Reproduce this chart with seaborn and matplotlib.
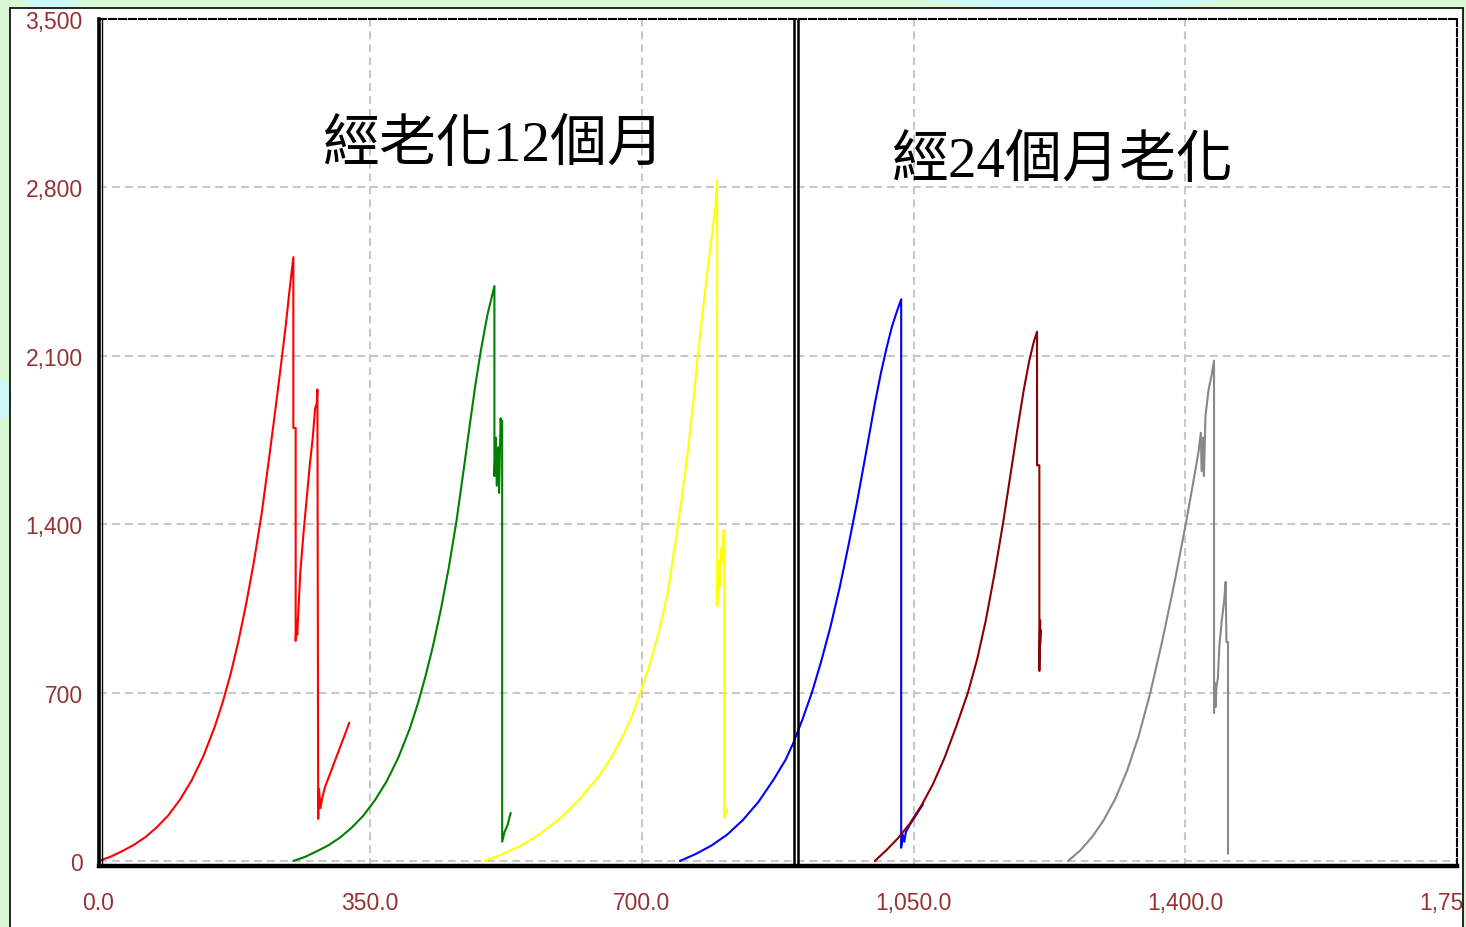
import matplotlib
matplotlib.use("Agg")
import numpy as np
import pandas as pd
import matplotlib.pyplot as plt
import matplotlib.ticker as mticker
import matplotlib.transforms as mtrans
from matplotlib.patches import Rectangle, Ellipse
from matplotlib.lines import Line2D
import seaborn as sns

# ---- data: six load traces (x = displacement / time, y = load) ----
red_x = [0, 15, 30, 45, 60, 75, 90, 105, 120, 135, 150, 160, 170, 180, 190, 200, 210, 220, 228, 235, 241, 246, 251,
         251, 254, 254, 255, 256, 257, 260, 264, 268, 272, 276, 279, 281, 282,
         283, 284, 286, 288, 292, 298, 305, 312, 318, 323]
red_y = [0, 17, 40, 66, 98, 140, 190, 255, 335, 435, 560, 660, 775, 910, 1065, 1240, 1440, 1680, 1880, 2060, 2220, 2370, 2510,
         1800, 1800, 915, 1000, 940, 1010, 1200, 1360, 1500, 1640, 1760, 1880, 1900, 1960,
         175, 300, 220, 260, 310, 360, 420, 480, 530, 575]

green_x = [251, 266, 281, 296, 311, 326, 341, 356, 371, 386, 401, 411, 421, 431, 441, 451, 461, 471, 479, 486, 493, 501, 510,
           510, 512, 513, 515, 516, 518, 519, 520, 520, 523, 527, 531]
green_y = [0, 17, 40, 65, 97, 138, 188, 252, 330, 428, 550, 650, 765, 895, 1045, 1215, 1410, 1640, 1830, 1990, 2130, 2270, 2390,
           1600, 1760, 1560, 1720, 1530, 1840, 1800, 1830, 80, 120, 150, 200]

yellow_x = [497, 520, 545, 570, 595, 620, 645, 660, 675, 687, 698, 710, 722, 733, 743, 751, 759, 766, 772, 779, 785, 791, 795, 797,
            797, 799, 800, 802, 803, 805, 806, 806, 808, 810]
yellow_y = [0, 28, 65, 115, 178, 258, 355, 428, 515, 600, 700, 815, 955, 1110, 1320, 1500, 1700, 1900, 2100, 2300, 2470, 2620, 2730, 2830,
            1060, 1250, 1140, 1300, 1240, 1375, 1370, 180, 200, 215]

blue_x = [749, 770, 790, 810, 830, 850, 870, 885, 895, 907, 919, 931, 943, 955, 966, 977, 990, 1000, 1008, 1015, 1022, 1028, 1034,
          1034, 1036, 1038, 1040, 1045, 1050, 1055, 1062]
blue_y = [0, 30, 65, 110, 170, 245, 340, 420, 490, 590, 700, 830, 975, 1140, 1310, 1490, 1720, 1900, 2030, 2130, 2220, 2280, 2335,
          55, 110, 80, 120, 150, 175, 200, 235]

maroon_x = [1000, 1015, 1030, 1045, 1060, 1075, 1090, 1105, 1120, 1132, 1143, 1154, 1165, 1175, 1184, 1192, 1199, 1205, 1209,
            1209, 1212, 1212, 1213, 1213, 1214]
maroon_y = [0, 45, 95, 155, 230, 320, 430, 560, 700, 840, 1000, 1190, 1400, 1610, 1800, 1960, 2080, 2160, 2200,
            1645, 1645, 790, 1000, 900, 960]

gray_x = [1249, 1265, 1280, 1295, 1310, 1325, 1340, 1355, 1370, 1385, 1400, 1410, 1417, 1420, 1421, 1423, 1424,
          1426, 1430, 1434, 1437,
          1437, 1438, 1439, 1440, 1442, 1444, 1447, 1450, 1452, 1453, 1455, 1455]
gray_y = [0, 45, 100, 170, 260, 375, 520, 700, 910, 1140, 1390, 1570, 1700, 1780, 1620, 1760, 1600,
          1850, 1960, 2020, 2080,
          615, 740, 640, 720, 760, 900, 1000, 1080, 1160, 910, 910, 30]

run_names = ["A", "B", "C", "D", "E", "F"]
run_colors = ["#FF0000", "#008000", "#FFFF00", "#0000FF", "#8B0000", "#888888"]

x_ticks = [0, 350, 700, 1050, 1400, 1750]
y_ticks = [0, 700, 1400, 2100, 2800, 3500]
divider_x = [895.5, 901.5]

label_12 = "經老化12個月"
label_24 = "經24個月老化"

# ---- long-form table for seaborn ----
series = [red_x, red_y, green_x, green_y, yellow_x, yellow_y,
          blue_x, blue_y, maroon_x, maroon_y, gray_x, gray_y]
frames = []
for i, name in enumerate(run_names):
    xs, ys = series[2 * i], series[2 * i + 1]
    frames.append(pd.DataFrame({"x": xs, "y": ys, "run": name}))
df = pd.concat(frames, ignore_index=True)

sns.set_style("white")
plt.rcParams["font.family"] = ["Liberation Sans", "DejaVu Sans"]
plt.rcParams["text.color"] = "black"

W, H = 1466, 928
BG = "#D8F8D4"
CYAN = "#CCF8FA"
TICK_RED = "#963232"


def fx(px):
    return px / W


def fy(py):
    return 1 - py / H


fig = plt.figure(figsize=(W / 100, H / 100), dpi=100)
fig.patch.set_facecolor(BG)

# decorative backdrop blobs and the white panel
fig.add_artist(Ellipse((fx(52), fy(-28)), 92 / W, 74 / H, transform=fig.transFigure,
                       color=CYAN, zorder=-3))
fig.add_artist(Ellipse((fx(1075), fy(-60)), 600 / W, 140 / H, transform=fig.transFigure,
                       color=CYAN, zorder=-3))
fig.add_artist(Rectangle((fx(10), fy(940)), 1453 / W, 932 / H, transform=fig.transFigure,
                         facecolor="white", edgecolor="none", zorder=-2))

ax = fig.add_axes([fx(98.5), fy(866.8), 1358.5 / W, 846.8 / H])
ax.set_facecolor("white")

sns.lineplot(data=df, x="x", y="y", hue="run", hue_order=run_names,
             palette=dict(zip(run_names, run_colors)), estimator=None, sort=False,
             lw=1.5, legend=False, ax=ax)

for xv in divider_x:
    ax.axvline(xv, color="black", lw=1.8, zorder=3)

ax.set_xlim(0, 1750)
ax.set_ylim(-20, 3500)
ax.set_xlabel("")
ax.set_ylabel("")

ax.set_xticks(x_ticks)
ax.set_yticks(y_ticks)
ax.xaxis.set_minor_locator(mticker.MultipleLocator(70))
ax.yaxis.set_minor_locator(mticker.MultipleLocator(140))
ax.xaxis.set_major_formatter(mticker.FuncFormatter(lambda v, p: f"{v:,.1f}"))
ax.yaxis.set_major_formatter(mticker.FuncFormatter(lambda v, p: f"{int(v):,}"))

ax.tick_params(axis="x", which="major", direction="out", length=11, width=1.5,
               color=TICK_RED, labelcolor=TICK_RED, labelsize=16.5, pad=7)
ax.tick_params(axis="x", which="minor", direction="out", length=8, width=1.5, color="black")
ax.tick_params(axis="y", which="major", direction="out", length=7.5, width=1.5,
               color=TICK_RED, labelcolor=TICK_RED, labelsize=16.5, pad=4)
ax.tick_params(axis="y", which="minor", direction="out", length=3, width=1.5, color="black")

ax.grid(True, which="major", color="#C8C8C8", lw=1.5, linestyle=(0, (3.8, 2.4)))
ax.set_axisbelow(True)

ax.spines["left"].set_linewidth(2.6)
ax.spines["bottom"].set_linewidth(3.2)
for s in ("top", "right"):
    ax.spines[s].set_linewidth(1.5)
    ax.spines[s].set_linestyle((0, (3.4, 1.4)))
for s in ax.spines.values():
    s.set_color("black")
    s.set_zorder(4)

# thin inner edge beside the left axis line
inner = ax.transAxes + mtrans.ScaledTranslation(0.035, 0, fig.dpi_scale_trans)
ax.add_line(Line2D([0, 0], [0, 1], transform=inner, color="black", lw=1.0, clip_on=False))

# headings
fig.text(fx(494), fy(147), label_12, fontsize=41, ha="center", va="center", color="black",
         family=["Liberation Serif", "Noto Sans CJK TC"])
fig.text(fx(1063), fy(163), label_24, fontsize=41, ha="center", va="center", color="black",
         family=["Liberation Serif", "Noto Sans CJK TC"])

# outer frame strips and panel border
fig.add_artist(Rectangle((0, 0), fx(9.5), 1, transform=fig.transFigure,
                         facecolor=BG, edgecolor="none", zorder=10))
fig.add_artist(Rectangle((fx(1463.5), 0), 1 - fx(1463.5), 1, transform=fig.transFigure,
                         facecolor=BG, edgecolor="none", zorder=10))
fig.add_artist(Ellipse((fx(0), fy(400)), 22 / W, 40 / H, transform=fig.transFigure,
                       color=CYAN, zorder=11))
fig.add_artist(Line2D([fx(10), fx(10)], [0, fy(8.5)], transform=fig.transFigure,
                      color="black", lw=1.2, zorder=12))
fig.add_artist(Line2D([fx(1463), fx(1463)], [0, fy(8.5)], transform=fig.transFigure,
                      color="black", lw=1.2, zorder=12))
fig.add_artist(Line2D([fx(10), fx(1463)], [fy(8.5), fy(8.5)], transform=fig.transFigure,
                      color="black", lw=1.2, zorder=12))

fig.savefig("out.png", dpi=100, facecolor=BG)
